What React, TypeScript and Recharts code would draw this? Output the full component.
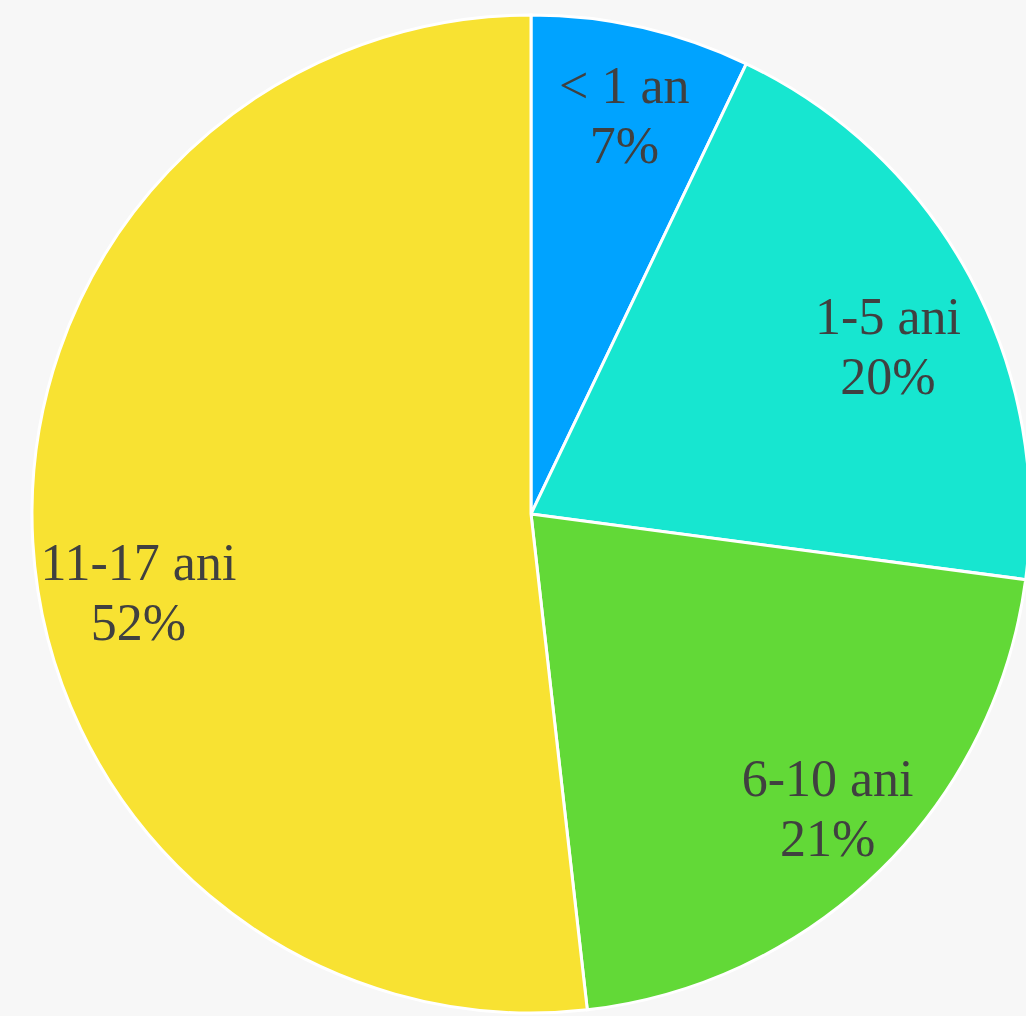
import React from "react";
import { PieChart, Pie, Cell } from "recharts";

const categories = ["< 1 an", "1-5 ani", "6-10 ani", "11-17 ani"];
const values = [7.1, 20, 21.1, 51.8];
const percentLabels = ["7%", "20%", "21%", "52%"];
const colors = ["#00a3ff", "#17e6d0", "#62d937", "#f8e232"];

// label layout nudges (px) relative to the point at 0.8·R on each slice's mid angle
const labelNudge = [
  [5, 8],
  [6, 40],
  [17, 27],
  [6, 73],
];

const data = categories.map((name, i) => ({ name, value: values[i] }));

const RAD = Math.PI / 180;
const FONT = "Liberation Serif, Times New Roman, serif";

const renderLabel = (props: any) => {
  const { cx, cy, midAngle, outerRadius, index } = props;
  const r = outerRadius * 0.8;
  const x = cx + r * Math.cos(-midAngle * RAD) + labelNudge[index][0];
  const y = cy + r * Math.sin(-midAngle * RAD) + labelNudge[index][1];
  return (
    <g key={`lbl-${index}`}>
      <text
        x={x}
        y={y - 30}
        textAnchor="middle"
        fill="#404040"
        style={{ fontFamily: FONT, fontSize: "52px" }}
      >
        {categories[index]}
      </text>
      <text
        x={x}
        y={y + 30}
        textAnchor="middle"
        fill="#404040"
        style={{ fontFamily: FONT, fontSize: "52px" }}
      >
        {percentLabels[index]}
      </text>
    </g>
  );
};

export default function App() {
  return (
    <div
      style={{
        position: "absolute",
        left: 0,
        top: 0,
        width: 1026,
        height: 1016,
        background: "#f7f7f7",
        overflow: "hidden",
        fontFamily: FONT,
      }}
    >
      <PieChart
        width={1026}
        height={1016}
        margin={{ top: 0, right: 0, bottom: 0, left: 0 }}
      >
        <Pie
          data={data}
          dataKey="value"
          nameKey="name"
          cx={531}
          cy={514}
          outerRadius={499}
          startAngle={90}
          endAngle={-270}
          stroke="#ffffff"
          strokeWidth={3}
          label={renderLabel}
          labelLine={false}
          isAnimationActive={false}
        >
          {data.map((d, i) => (
            <Cell key={d.name} fill={colors[i]} />
          ))}
        </Pie>
      </PieChart>
    </div>
  );
}
